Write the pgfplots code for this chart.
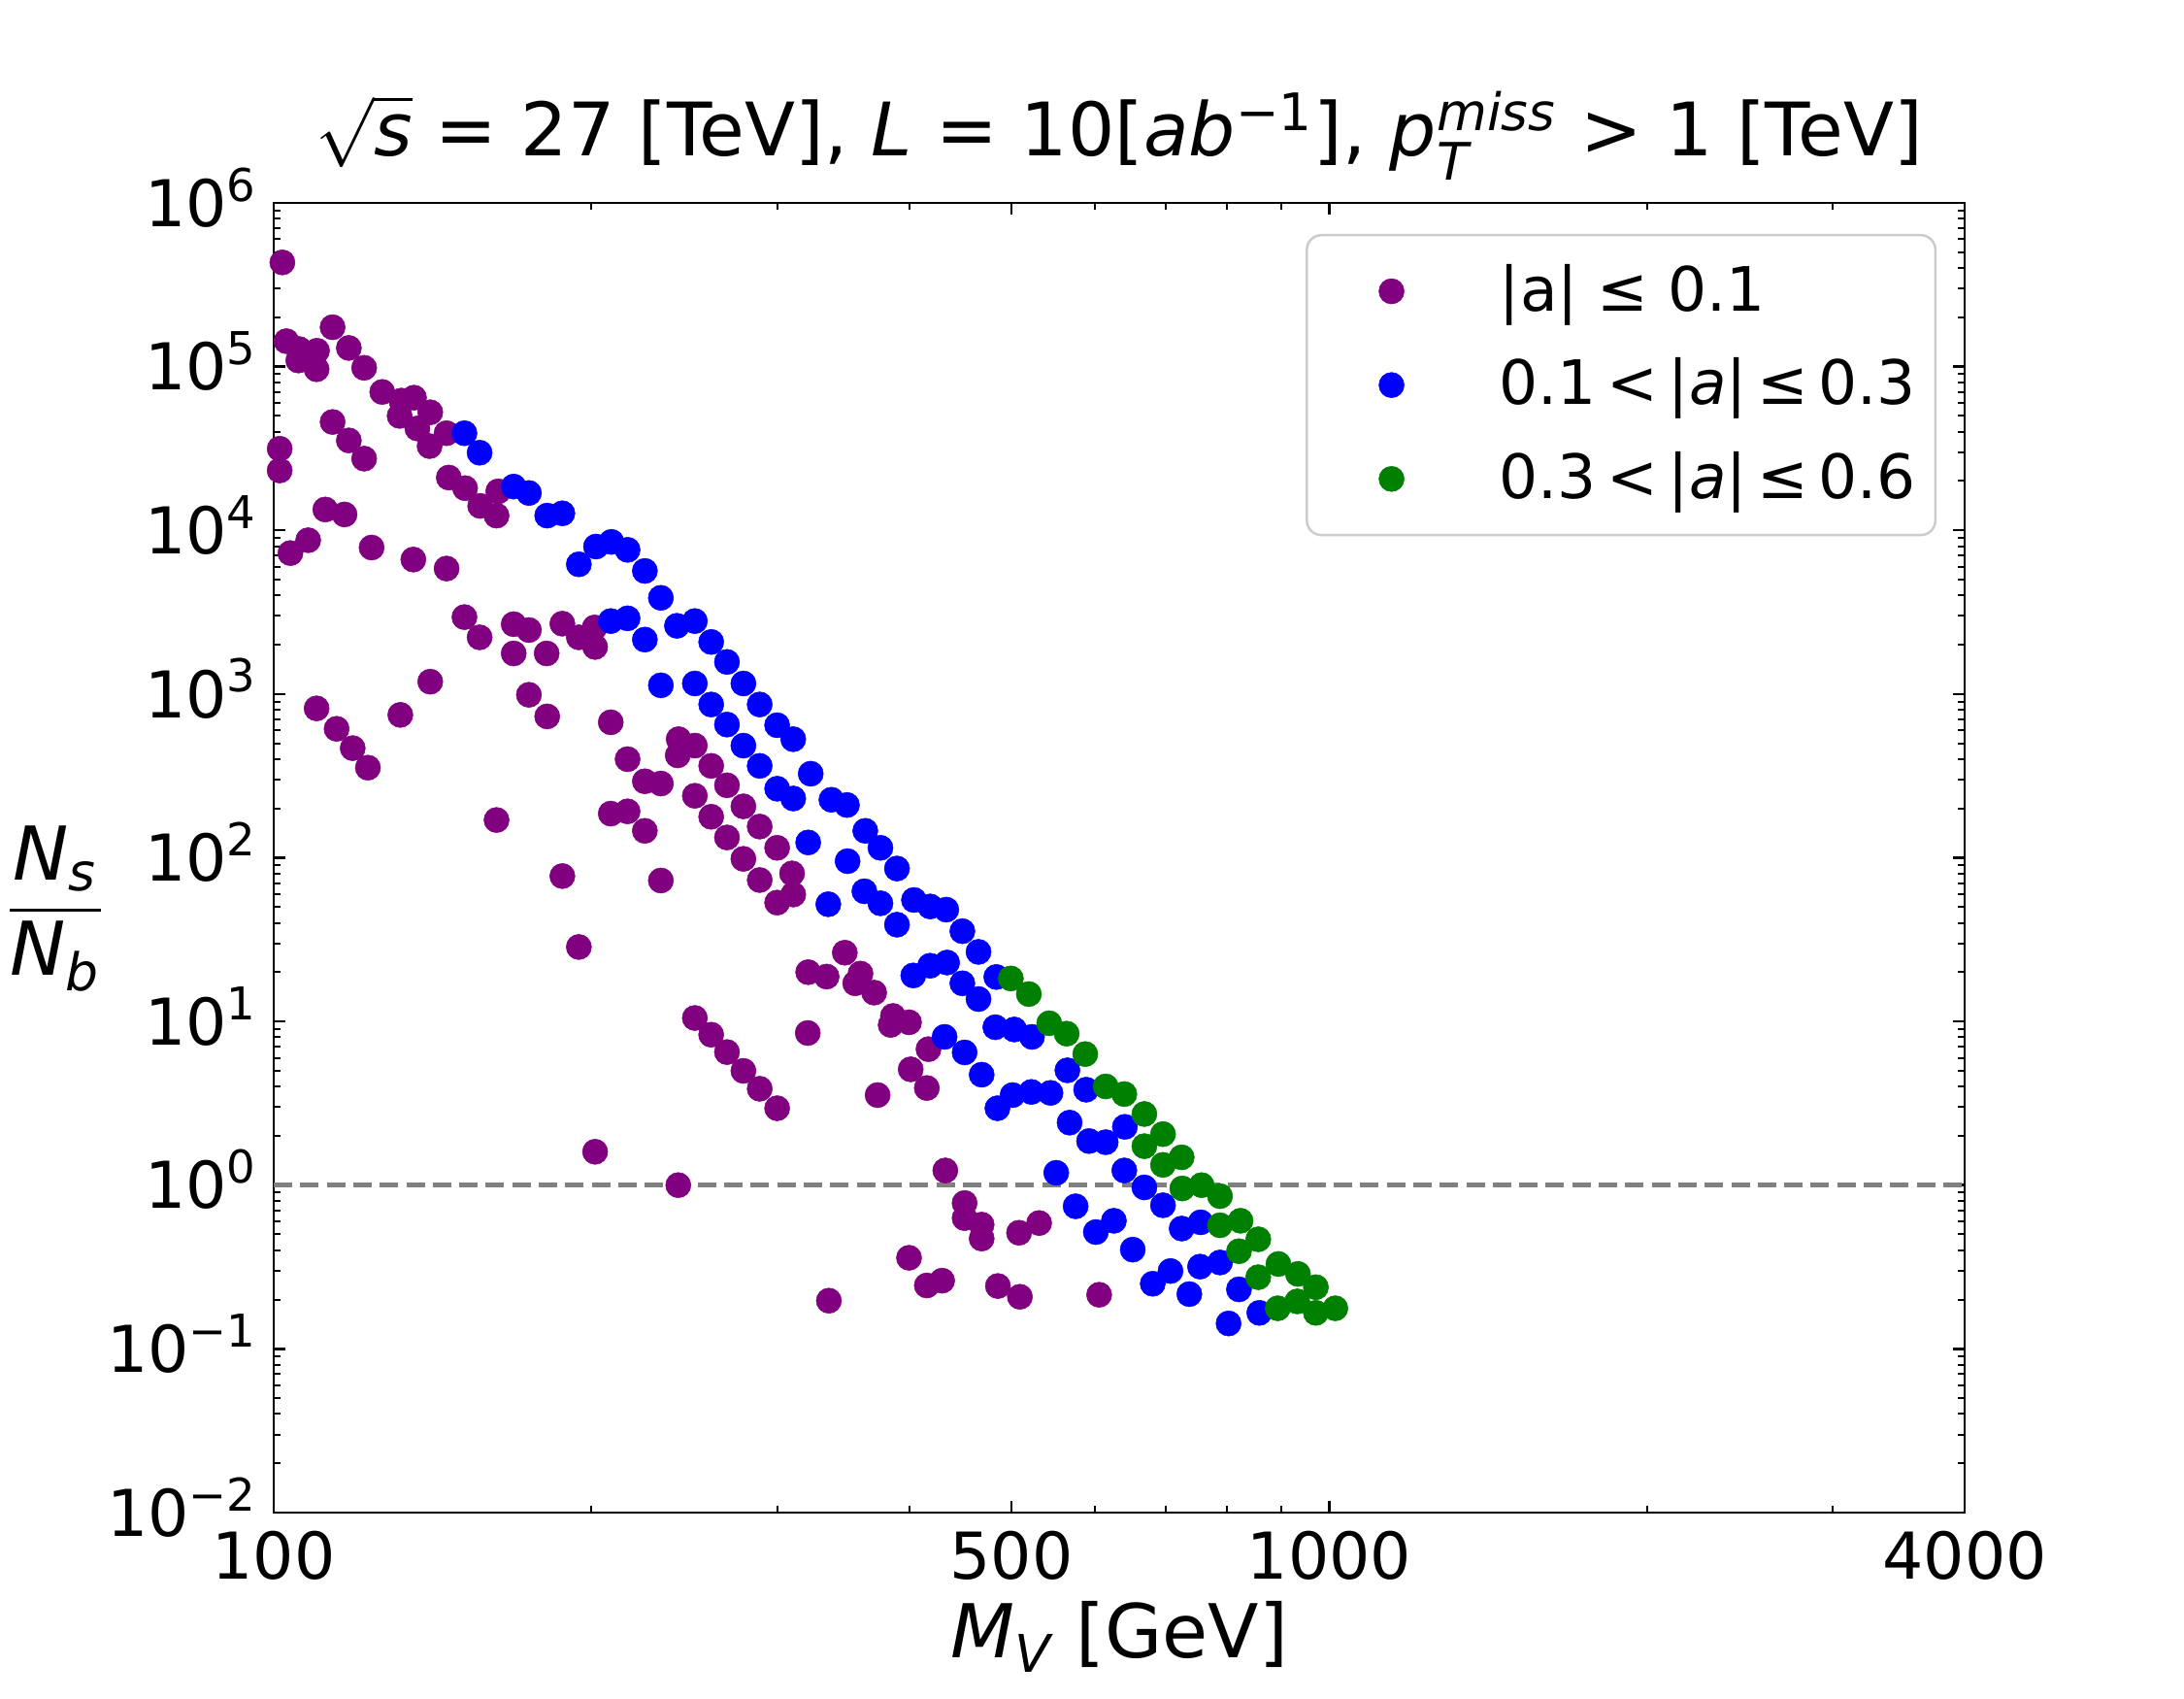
\documentclass[border=0pt]{standalone}
\usepackage{amsmath}
\usepackage{fontspec}
\setmainfont{DejaVu Sans}
\usepackage{pgfplots}
\pgfplotsset{compat=1.18}
\definecolor{mpurple}{HTML}{800080}
\definecolor{mblue}{HTML}{0000FF}
\definecolor{mgreen}{HTML}{008000}
\newcommand\tickfont{\fontsize{13.3}{16}\selectfont}
\newcommand\titlefont{\fontsize{15.2}{18}\selectfont}
\newcommand\labelfont{\fontsize{15.3}{18}\selectfont}
\newcommand\legfont{\fontsize{12.6}{15}\selectfont}
\newcommand\tp[1]{10\textsuperscript{#1}}
\begin{document}
\begin{tikzpicture}
\begin{axis}[
  xmode=log, ymode=log,
  scale only axis, width=348.4pt, height=269.8pt,
  xmin=100, xmax=4000, ymin=1e-2, ymax=1e6,
  xtick={100,500,1000,4000}, xticklabels={100,500,1000,4000},
  minor xtick={200,300,400,600,700,800,900,2000,3000},
  ytick={1e-2,1e-1,1,10,100,1000,1e4,1e5,1e6},
  yticklabels={\tp{−2},\tp{−1},\tp{0},\tp{1},\tp{2},\tp{3},\tp{4},\tp{5},\tp{6}},
  minor ytick={2e-2,3e-2,4e-2,5e-2,6e-2,7e-2,8e-2,9e-2,
    0.2,0.3,0.4,0.5,0.6,0.7,0.8,0.9,
    2,3,4,5,6,7,8,9,
    20,30,40,50,60,70,80,90,
    200,300,400,500,600,700,800,900,
    2000,3000,4000,5000,6000,7000,8000,9000,
    2e4,3e4,4e4,5e4,6e4,7e4,8e4,9e4,
    2e5,3e5,4e5,5e5,6e5,7e5,8e5,9e5},
  tick align=inside,
  xtick pos=both, ytick pos=both,
  xticklabel pos=lower, yticklabel pos=left,
  major tick length=2.4pt, minor tick length=1.35pt,
  major tick style={black, line width=0.5pt},
  minor tick style={black, line width=0.4pt},
  axis line style={line width=0.55pt},
  tick label style={font=\tickfont},
  xticklabel style={anchor=base, yshift=-13.7pt},
  yticklabel style={anchor=base east, inner xsep=0pt, xshift=-3pt, yshift=-4.85pt},
  title={$\sqrt{\textit{s}}$ = 27 [TeV], \textit{L} = 10[\textit{ab}$^{\text{−1}}$], \textit{p}$^{\textit{miss}}_{\textit{T}}$ > 1 [TeV]},
  title style={font=\titlefont, at={(axis description cs:0.5,1)}, anchor=base, yshift=3.6pt},
  xlabel={\textit{M}$_{\textit{V}}$ [GeV]},
  xlabel style={font=\labelfont, at={(axis description cs:0.5,0)}, anchor=base, yshift=-30pt},
  ylabel={$\dfrac{\textit{N}_{\textit{s}}}{\textit{N}_{\textit{b}}}$},
  ylabel style={font=\labelfont, at={(axis description cs:-0.129,0.461)}, anchor=center, rotate=-90},
  legend cell align=left,
  legend image code/.code={\draw[mark repeat=2,mark phase=2,#1,fill opacity=1,draw opacity=1] plot coordinates {(0pt,0pt) (13.2pt,0pt) (26.4pt,0pt)}; \path (0pt,0pt) (35.2pt,0pt);},
  legend style={at={(axis description cs:0.9834,0.9763)}, anchor=north east,
    draw=black!20, line width=0.5pt, rounded corners=3pt, fill=white, fill opacity=0.8, text opacity=1,
    inner xsep=4pt, inner ysep=6pt, font=\legfont, row sep=8.2pt,
    nodes={inner sep=0pt}},
  mark size=2.6pt,
]
\addplot[only marks, mark=*, color=mpurple, mark options={line width=0.1pt}] coordinates {
(101.9,4.33e5)(102.8,1.43e5)(105.7,1.28e5)(105.5,1.09e5)(109.9,1.25e5)(109.8,9.64e4)
(113.7,1.74e5)(117.8,1.30e5)(121.8,9.83e4)(126.7,7.0e4)(132.1,6.2e4)(135.8,6.46e4)
(131.6,5.0e4)(140.7,5.26e4)(136.8,4.19e4)(140.5,3.27e4)(145.8,3.92e4)(113.7,4.59e4)
(117.8,3.54e4)(121.8,2.74e4)(101.3,3.15e4)(101.3,2.32e4)(146.5,2.10e4)(151.8,1.81e4)
(156.9,1.41e4)(162.6,1.23e4)(163.2,1.73e4)(111.9,1.34e4)(116.7,1.25e4)(103.7,7.26e3)
(107.8,8.7e3)(123.8,7.85e3)(135.6,6.63e3)(145.8,5.84e3)(151.6,2.95e3)(156.7,2.22e3)
(168.8,2.67e3)(174.5,2.46e3)(168.8,1.77e3)(181.4,1.77e3)(187.7,2.69e3)(194.6,2.22e3)
(201.4,2.55e3)(201.6,1.94e3)(140.7,1.19e3)(109.8,817)(114.7,613)(118.8,467)(122.8,355)
(131.8,746)(174.5,989)(181.6,730)(208.6,672)(216.4,400)(224.7,293)(232.7,284)
(208.6,186)(216.4,192)(224.7,146)(162.6,170)(187.7,77.3)(232.7,72.6)(194.6,28.5)
(241.9,530)(250.6,484)(241.4,422)(259.7,364)(268.8,277)(278.6,206)(288.7,155)
(299.9,115)(309.8,80.2)(310.6,59.6)(299.9,53.2)(250.6,239)(259.7,178)(268.8,133)
(278.6,98.4)(288.7,73.1)(347.6,26.3)(320.9,20.0)(334.1,18.8)(359.7,19.6)(355.6,17.1)
(370.6,15.0)(250.6,10.5)(259.7,8.30)(268.8,6.50)(278.6,4.99)(288.7,3.88)(299.9,2.95)
(320.6,8.50)(373.4,3.55)(386.1,10.8)(384.2,9.52)(399.9,9.88)(417.2,6.77)(401.3,5.10)
(415.7,3.92)(241.7,1.0)(201.6,1.60)(335.7,0.197)(432.8,1.23)(451.4,0.778)(451.4,0.629)
(468.5,0.574)(468.5,0.472)(508.3,0.512)(531.1,0.587)(399.9,0.360)(415.7,0.244)
(429.8,0.261)(485.4,0.242)(509.3,0.208)(605.4,0.214)
};
\addlegendentry{|a| ≤ 0.1}
\addplot[only marks, mark=*, color=mblue, mark options={line width=0.1pt}] coordinates {
(151.6,3.92e4)(156.7,2.98e4)(168.8,1.85e4)(174.5,1.69e4)(181.6,1.23e4)(187.7,1.27e4)
(194.6,6.2e3)(202.0,7.96e3)(208.9,8.5e3)(216.4,7.6e3)(224.7,5.65e3)(232.7,3.87e3)
(208.6,2.79e3)(216.4,2.90e3)(224.7,2.15e3)(241.0,2.61e3)(232.7,1.13e3)(250.6,2.79e3)
(259.7,2.08e3)(268.8,1.57e3)(278.6,1.16e3)(288.7,863)(299.9,645)(310.6,530)
(250.6,1.16e3)(259.7,863)(268.8,651)(278.6,484)(288.7,364)(299.9,264)(310.6,230)
(322.7,326)(337.6,226)(349.2,210)(363.5,146)(375.7,115)(389.5,85.9)(320.9,124)
(349.7,95.3)(362.8,62.4)(375.7,52.7)(389.5,39.0)(404.2,55.2)(418.7,50.4)(433.7,48.2)
(449.2,35.6)(465.3,26.6)(483.7,18.7)(335.3,52.0)(403.6,19.1)(418.7,21.9)(434.5,22.9)
(449.2,17.1)(465.3,13.7)(432.1,8.05)(451.4,6.47)(468.5,4.73)(482.7,9.22)(503.0,8.93)
(522.9,8.05)(484.9,2.95)(501.2,3.55)(522.2,3.71)(544.4,3.66)(564.9,5.03)(588.5,3.83)
(567.6,2.41)(592.2,1.86)(551.3,1.19)(575.1,0.743)(614.1,1.83)(640.4,2.27)(639.6,1.23)
(668.2,0.969)(695.9,0.754)(601.1,0.517)(625.2,0.606)(651.5,0.404)(724.9,0.543)
(755.5,0.593)(754.5,0.318)(788.1,0.337)(707.4,0.299)(680.5,0.250)(737.1,0.216)
(821.3,0.231)(858.6,0.166)(802.9,0.143)
};
\addlegendentry{0.1\,<\,|\textit{a}|\,≤\,0.3}
\addplot[only marks, mark=*, color=mgreen, mark options={line width=0.1pt}] coordinates {
(499.3,18.3)(519.3,14.7)(542.9,9.75)(564.0,8.42)(587.3,6.32)(614.1,4.01)(639.6,3.60)
(668.2,2.72)(695.9,2.05)(668.2,1.73)(724.9,1.48)(695.9,1.33)(725.9,0.955)(757.1,1.0)
(788.1,0.857)(788.1,0.569)(824.1,0.606)(856.6,0.467)(821.3,0.395)(856.6,0.274)
(895.1,0.330)(934.0,0.287)(971.4,0.238)(893.9,0.177)(932.7,0.195)(971.4,0.166)(1013.4,0.177)
};
\addlegendentry{0.3\,<\,|\textit{a}|\,≤\,0.6}
\addplot[forget plot, color=gray, line width=0.94pt, dash pattern=on 3.8pt off 1.66pt] coordinates {(100,1) (4000,1)};
\end{axis}
\pgfresetboundingbox
\path[use as bounding box] ([shift={(-56.4pt,-38.4pt)}]current axis.south west) rectangle ([shift={(45.2pt,41.8pt)}]current axis.north east);
\end{tikzpicture}
\end{document}
